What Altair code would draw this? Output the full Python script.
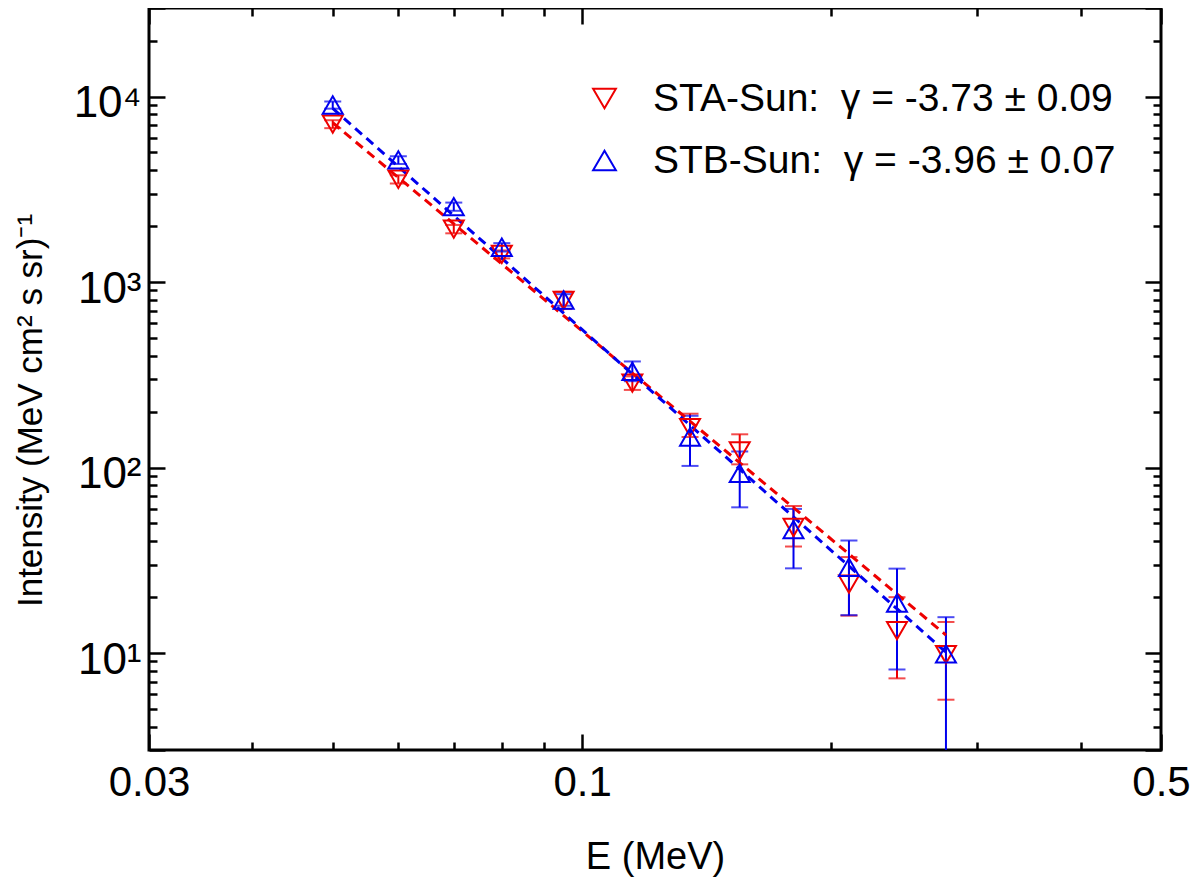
import pandas as pd
import altair as alt

# energy channels (MeV), same for both spacecraft
energy = [0.05, 0.06, 0.07, 0.08, 0.095, 0.115, 0.135, 0.155, 0.18, 0.21, 0.24, 0.275]

# STEREO-A intensities and error bar ends
sta_flux = [7100, 3580, 1930, 1410, 795, 285, 164, 123, 47.5, 23.5, 13.2, 9.8]
sta_low = [6750, 3400, 1830, 1340, 715, 262, 146, 104, 37.5, 15.9, 7.3, 5.6]
sta_high = [7450, 3760, 2030, 1480, 885, 310, 195, 151, 62, 32.9, 20, 14.7]

# STEREO-B intensities and error bar ends
stb_flux = [9000, 4550, 2550, 1540, 800, 330, 146, 93, 46.3, 29, 18.6, 9.9]
stb_low = [8600, 4330, 2420, 1460, 745, 292, 102, 61, 28.6, 16, 8.15, 2.5]
stb_high = [9400, 4770, 2680, 1620, 860, 373, 190, 122, 59.8, 40.4, 28.5, 15.6]

# power-law fit lines, end points only
fit_energy = [0.05, 0.275]
sta_fit = [7220, 12.5]
stb_fit = [8630, 10.1]

series = ["STA-Sun:\u00a0 \u03b3 = -3.73 \u00b1 0.09", "STB-Sun:\u00a0 \u03b3 = -3.96 \u00b1 0.07"]
colors = ["#ee0000", "#0000ee"]
shapes = ["triangle-down", "triangle-up"]

x_ticks = [0.03, 0.04, 0.05, 0.06, 0.07, 0.08, 0.09, 0.1, 0.2, 0.3, 0.4, 0.5]
y_ticks = [3, 4, 5, 6, 7, 8, 9,
           10, 20, 30, 40, 50, 60, 70, 80, 90,
           100, 200, 300, 400, 500, 600, 700, 800, 900,
           1000, 2000, 3000, 4000, 5000, 6000, 7000, 8000, 9000,
           10000, 20000, 30000]

n = len(energy)
pts = pd.DataFrame({
    "E": energy * 2,
    "I": sta_flux + stb_flux,
    "s": [series[0]] * n + [series[1]] * n,
})
sta = pd.DataFrame({"E": energy, "lo": sta_low, "hi": sta_high})
stb = pd.DataFrame({"E": energy, "lo": stb_low, "hi": stb_high})
sta_line = pd.DataFrame({"E": fit_energy, "I": sta_fit})
stb_line = pd.DataFrame({"E": fit_energy, "I": stb_fit})

font = "Liberation Sans"
xs = alt.Scale(type="log", domain=[0.03, 0.5], nice=False)
ys = alt.Scale(type="log", domain=[3, 30000], nice=False)
cs = alt.Scale(domain=series, range=colors)
ss = alt.Scale(domain=series, range=shapes)

x_major = "indexof([0.03, 0.1, 0.5], datum.value) >= 0"
y_major = "indexof([3, 10, 100, 1000, 10000, 30000], datum.value) >= 0"
x_tick = {"condition": {"test": x_major, "value": -16}, "value": -8}
y_tick = {"condition": {"test": y_major, "value": -16}, "value": -8}

x_bottom = alt.Axis(
    orient="bottom", values=x_ticks, tickSize=x_tick,
    labelExpr="datum.value == 0.03 ? '0.03' : datum.value == 0.1 ? '0.1' : datum.value == 0.5 ? '0.5' : ''",
    labelFontSize=42, labelPadding=28, labelFlush=False, labelOverlap=False,
    title="E (MeV)", titleFontSize=38, titleY=118, titleBaseline="alphabetic",
)
y_left = alt.Axis(
    orient="left", values=y_ticks, tickSize=y_tick,
    labelExpr="datum.value == 10 ? '10\u00b9' : datum.value == 100 ? '10\u00b2' : "
              "datum.value == 1000 ? '10\u00b3' : datum.value == 10000 ? '10\u2074' : ''",
    labelFontSize=44, labelPadding=24, labelOffset=7, labelFlush=False, labelOverlap=False,
    title="Intensity (MeV cm\u00b2 s sr)\u207b\u00b9", titleFontSize=35, titleAngle=270,
    titleX=-108, titleY=402, titleAlign="center", titleBaseline="alphabetic",
)
x_top = alt.Axis(orient="top", values=x_ticks, tickSize=x_tick, labels=False, title=None)
y_right = alt.Axis(orient="right", values=y_ticks, tickSize=y_tick, labels=False, title=None)

legend = alt.Legend(
    title=None, orient="none", legendX=436, legendY=71, padding=0,
    labelFont=font, labelFontSize=39, labelColor="black", labelOffset=29,
    symbolSize=520, symbolStrokeWidth=2, rowPadding=22, labelLimit=800,
)


def error_layers(df, color):
    bars = alt.Chart(df).mark_rule(strokeWidth=2, clip=True, color=color).encode(
        x=alt.X("E:Q", scale=xs, axis=None),
        y=alt.Y("lo:Q", scale=ys, axis=None),
        y2="hi:Q",
    )
    caps_lo = alt.Chart(df).mark_tick(
        orient="horizontal", size=17, thickness=2, clip=True, color=color
    ).encode(
        x=alt.X("E:Q", scale=xs, axis=None),
        y=alt.Y("lo:Q", scale=ys, axis=None),
    )
    caps_hi = alt.Chart(df).mark_tick(
        orient="horizontal", size=17, thickness=2, clip=True, color=color
    ).encode(
        x=alt.X("E:Q", scale=xs, axis=None),
        y=alt.Y("hi:Q", scale=ys, axis=None),
    )
    return [bars, caps_lo, caps_hi]


def fit_layer(df, color, xaxis=None, yaxis=None):
    return alt.Chart(df).mark_line(strokeDash=[9, 6], strokeWidth=3, color=color).encode(
        x=alt.X("E:Q", scale=xs, axis=xaxis),
        y=alt.Y("I:Q", scale=ys, axis=yaxis),
    )


points = alt.Chart(pts).mark_point(filled=False, size=400, strokeWidth=2, opacity=1).encode(
    x=alt.X("E:Q", scale=xs, axis=x_bottom),
    y=alt.Y("I:Q", scale=ys, axis=y_left),
    color=alt.Color("s:N", scale=cs, legend=legend),
    shape=alt.Shape("s:N", scale=ss, legend=legend),
)

layers = (
    error_layers(sta, colors[0])
    + error_layers(stb, colors[1])
    + [fit_layer(sta_line, colors[0], x_top, y_right), fit_layer(stb_line, colors[1])]
    + [points]
)

chart = alt.layer(*layers).resolve_axis(
    x="independent", y="independent"
).properties(
    width=1012, height=742,
    autosize=alt.AutoSizeParams(type="none"),
    padding={"left": 141, "top": 0, "right": 31, "bottom": 128},
    background="white",
).configure_view(
    stroke="black", strokeWidth=3
).configure_axis(
    domain=False, grid=False, tickColor="black", tickWidth=2.5,
    labelColor="black", titleColor="black", labelFont=font, titleFont=font,
    titleFontWeight="normal",
)

chart.save("out.html", embed_options={"renderer": "svg", "actions": False})
